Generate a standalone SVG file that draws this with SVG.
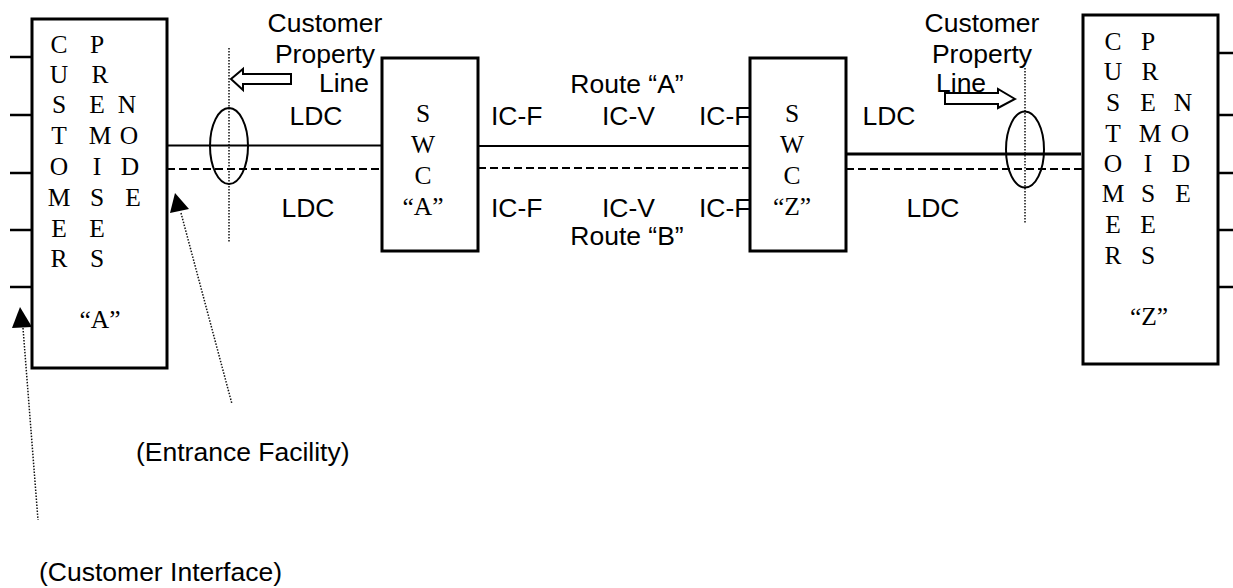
<svg xmlns="http://www.w3.org/2000/svg" width="1233" height="588" viewBox="0 0 1233 588">
<style>
.box{fill:#fff;stroke:#000;stroke-width:3}
.stub{stroke:#000;stroke-width:2.5}
.solid{stroke:#000;stroke-width:2;fill:none}
.dash{stroke:#000;stroke-width:2;stroke-dasharray:8 4;fill:none}
.dot{stroke:#111;stroke-width:1.5;stroke-dasharray:1.5 1.5;fill:none}
.ell{fill:none;stroke:#000;stroke-width:2}
.hollow{fill:#fff;stroke:#000;stroke-width:2}
.tri{fill:#000}
.s{font-family:"Liberation Sans",Arial,sans-serif;font-size:26.5px;fill:#000}
.t{font-family:"Liberation Serif","Times New Roman",serif;font-size:25.5px;fill:#000;text-anchor:middle}
.m{text-anchor:middle}
</style>
<rect width="1233" height="588" fill="#fff"/>
<g id="labels">
<text class="s m" x="325" y="32">Customer</text>
<text class="s m" x="325" y="63">Property</text>
<text class="s m" x="344" y="92">Line</text>
<text class="s m" x="316" y="125">LDC</text>
<text class="s m" x="308" y="217">LDC</text>
<text class="s m" x="627" y="93">Route “A”</text>
<text class="s m" x="627" y="245">Route “B”</text>
<text class="s" x="491" y="125">IC-F</text>
<text class="s" x="602" y="125">IC-V</text>
<text class="s" x="699" y="125">IC-F</text>
<text class="s" x="491" y="217">IC-F</text>
<text class="s" x="602" y="217">IC-V</text>
<text class="s" x="699" y="217">IC-F</text>
<text class="s m" x="982" y="32">Customer</text>
<text class="s m" x="982" y="63">Property</text>
<text class="s" x="936" y="92">Line</text>
<text class="s m" x="889" y="125">LDC</text>
<text class="s m" x="933" y="217">LDC</text>
<text class="s" x="136" y="461">(Entrance Facility)</text>
<text class="s" x="39" y="581">(Customer Interface)</text>
</g>
<g id="connectors">
<line class="solid" x1="167" y1="145.5" x2="382" y2="145.5"/>
<line class="dash" x1="167" y1="169" x2="382" y2="169"/>
<line class="solid" x1="478" y1="146" x2="750" y2="146"/>
<line class="dash" x1="478" y1="168" x2="750" y2="168"/>
<line class="solid" x1="846" y1="154" x2="1081" y2="154" style="stroke-width:3"/>
<line class="dash" x1="846" y1="169" x2="1083" y2="169"/>
<line class="dot" x1="229" y1="48" x2="229" y2="243"/>
<line class="dot" x1="1025" y1="68" x2="1025" y2="224"/>
<ellipse class="ell" cx="229" cy="146" rx="19" ry="38"/>
<ellipse class="ell" cx="1025" cy="149.5" rx="19" ry="38"/>
<polygon class="hollow" points="231,79 243,69 243,74 291,74 291,84 243,84 243,90"/>
<polygon class="hollow" points="1015,99 998,89 998,93 945,93 945,104 998,104 998,108"/>
<line class="dot" x1="181" y1="213" x2="232" y2="404"/>
<polygon class="tri" points="170,213 175,193 189,209"/>
<line class="dot" x1="23" y1="328" x2="38" y2="520"/>
<polygon class="tri" points="12,328 20,307 32,327"/>
</g>
<g id="cpn-a">
<line class="stub" x1="10" y1="57" x2="32" y2="57"/>
<line class="stub" x1="10" y1="115" x2="32" y2="115"/>
<line class="stub" x1="10" y1="173" x2="32" y2="173"/>
<line class="stub" x1="10" y1="230" x2="32" y2="230"/>
<line class="stub" x1="10" y1="287" x2="32" y2="287"/>
<rect class="box" x="32" y="19" width="135" height="349"/>
<text class="t" x="59" y="53">C</text><text class="t" x="97" y="53">P</text>
<text class="t" x="59" y="83">U</text><text class="t" x="100" y="83">R</text>
<text class="t" x="59" y="113">S</text><text class="t" x="97" y="113">E</text><text class="t" x="127" y="113">N</text>
<text class="t" x="59" y="144">T</text><text class="t" x="100" y="144">M</text><text class="t" x="129" y="144">O</text>
<text class="t" x="59" y="175">O</text><text class="t" x="97" y="175">I</text><text class="t" x="130" y="175">D</text>
<text class="t" x="59" y="206">M</text><text class="t" x="97" y="206">S</text><text class="t" x="133" y="206">E</text>
<text class="t" x="59" y="237">E</text><text class="t" x="97" y="237">E</text>
<text class="t" x="59" y="267">R</text><text class="t" x="97" y="267">S</text>
<text class="t" x="100" y="328">“A”</text>
</g>
<g id="swc-a">
<rect class="box" x="382" y="58" width="96" height="193"/>
<text class="t" x="423" y="122">S</text>
<text class="t" x="423" y="153">W</text>
<text class="t" x="423" y="184">C</text>
<text class="t" x="423" y="215">“A”</text>
</g>
<g id="swc-z">
<rect class="box" x="750" y="58" width="96" height="193"/>
<text class="t" x="792" y="122">S</text>
<text class="t" x="792" y="153">W</text>
<text class="t" x="792" y="184">C</text>
<text class="t" x="792" y="215">“Z”</text>
</g>
<g id="cpn-z">
<line class="stub" x1="1218" y1="53" x2="1233" y2="53"/>
<line class="stub" x1="1218" y1="115" x2="1233" y2="115"/>
<line class="stub" x1="1218" y1="173" x2="1233" y2="173"/>
<line class="stub" x1="1218" y1="230" x2="1233" y2="230"/>
<line class="stub" x1="1218" y1="287" x2="1233" y2="287"/>
<rect class="box" x="1083" y="15" width="135" height="349"/>
<text class="t" x="1113" y="50">C</text><text class="t" x="1148" y="50">P</text>
<text class="t" x="1113" y="80">U</text><text class="t" x="1150" y="80">R</text>
<text class="t" x="1113" y="111">S</text><text class="t" x="1148" y="111">E</text><text class="t" x="1183" y="111">N</text>
<text class="t" x="1113" y="142">T</text><text class="t" x="1150" y="142">M</text><text class="t" x="1180" y="142">O</text>
<text class="t" x="1113" y="172">O</text><text class="t" x="1148" y="172">I</text><text class="t" x="1181" y="172">D</text>
<text class="t" x="1113" y="202">M</text><text class="t" x="1148" y="202">S</text><text class="t" x="1183" y="202">E</text>
<text class="t" x="1113" y="233">E</text><text class="t" x="1148" y="233">E</text>
<text class="t" x="1113" y="264">R</text><text class="t" x="1148" y="264">S</text>
<text class="t" x="1149" y="325">“Z”</text>
</g>
</svg>
